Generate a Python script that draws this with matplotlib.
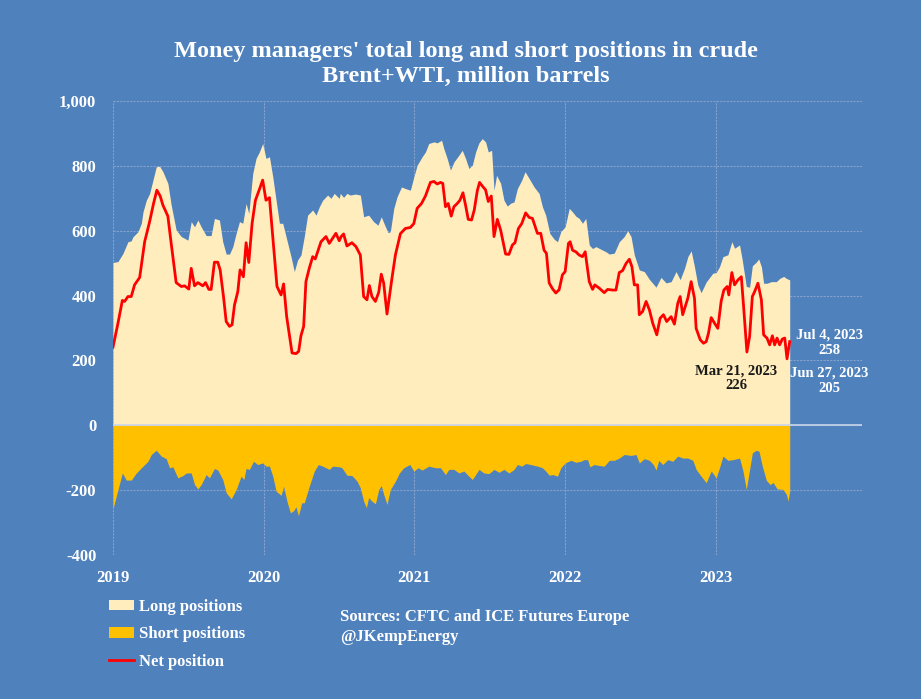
import matplotlib
matplotlib.use("Agg")
import matplotlib.pyplot as plt
from matplotlib.patches import Patch
from matplotlib.lines import Line2D

# ---- data (decimal years, million barrels) ----
long_years = [2019.000, 2019.033, 2019.066, 2019.099, 2019.121, 2019.132, 2019.166, 2019.188, 2019.199, 2019.221,
              2019.243, 2019.265, 2019.287, 2019.309, 2019.331, 2019.364, 2019.386, 2019.419, 2019.453, 2019.497,
              2019.519, 2019.541, 2019.563, 2019.585, 2019.618, 2019.651, 2019.673, 2019.706, 2019.728, 2019.751,
              2019.773, 2019.795, 2019.817, 2019.839, 2019.861, 2019.883, 2019.901, 2019.927, 2019.949, 2019.971,
              2019.993, 2020.015, 2020.038, 2020.060, 2020.082, 2020.104, 2020.126, 2020.148, 2020.181, 2020.203,
              2020.225, 2020.247, 2020.269, 2020.291, 2020.325, 2020.347, 2020.369, 2020.391, 2020.424, 2020.446,
              2020.468, 2020.501, 2020.508, 2020.530, 2020.552, 2020.574, 2020.608, 2020.641, 2020.663, 2020.696,
              2020.729, 2020.758, 2020.780, 2020.803, 2020.825, 2020.840, 2020.863, 2020.885, 2020.914, 2020.940,
              2020.973, 2020.996, 2021.018, 2021.051, 2021.073, 2021.095, 2021.129, 2021.151, 2021.180, 2021.195,
              2021.217, 2021.239, 2021.262, 2021.295, 2021.317, 2021.339, 2021.361, 2021.384, 2021.406, 2021.428,
              2021.450, 2021.472, 2021.490, 2021.512, 2021.528, 2021.545, 2021.572, 2021.594, 2021.616, 2021.639,
              2021.661, 2021.683, 2021.712, 2021.734, 2021.761, 2021.794, 2021.827, 2021.849, 2021.871, 2021.898,
              2021.927, 2021.949, 2021.971, 2022.000, 2022.027, 2022.049, 2022.071, 2022.093, 2022.115, 2022.137,
              2022.160, 2022.182, 2022.204, 2022.237, 2022.271, 2022.293, 2022.326, 2022.359, 2022.392, 2022.415,
              2022.437, 2022.459, 2022.492, 2022.525, 2022.559, 2022.603, 2022.636, 2022.670, 2022.703, 2022.736,
              2022.763, 2022.792, 2022.814, 2022.836, 2022.858, 2022.880, 2022.902, 2022.936, 2022.980, 2023.002,
              2023.024, 2023.047, 2023.080, 2023.106, 2023.124, 2023.157, 2023.175, 2023.202, 2023.224, 2023.242,
              2023.268, 2023.284, 2023.302, 2023.317, 2023.339, 2023.368, 2023.401, 2023.424, 2023.450, 2023.468,
              2023.486, 2023.490]
long_vals = [502, 505, 530, 566, 569, 581, 597, 623, 658, 694,
             715, 756, 797, 799, 782, 746, 679, 602, 582, 571,
             628, 612, 633, 612, 585, 585, 638, 633, 566, 528,
             528, 551, 592, 628, 623, 684, 653, 776, 823, 843,
             869, 823, 828, 766, 694, 623, 623, 582, 520, 474,
             510, 525, 582, 648, 664, 648, 674, 694, 710, 700,
             715, 700, 715, 703, 715, 710, 713, 710, 643, 648,
             628, 617, 643, 617, 594, 597, 669, 705, 735, 730,
             725, 766, 802, 828, 843, 869, 874, 871, 879, 853,
             823, 787, 812, 833, 848, 823, 792, 802, 843, 871,
             884, 874, 843, 848, 725, 771, 746, 694, 676, 685,
             689, 730, 756, 782, 761, 735, 715, 674, 648, 592,
             574, 566, 597, 612, 669, 658, 645, 638, 623, 638,
             556, 545, 551, 543, 535, 528, 531, 566, 582, 600,
             582, 525, 479, 474, 450, 426, 456, 439, 443, 474,
             449, 484, 520, 538, 489, 433, 409, 442, 469, 471,
             489, 520, 526, 566, 546, 556, 510, 428, 426, 492,
             503, 513, 489, 438, 438, 443, 443, 453, 459, 453,
             449, 449]

short_years = [2019.000, 2019.033, 2019.062, 2019.088, 2019.121, 2019.155, 2019.199, 2019.232, 2019.254, 2019.287,
               2019.320, 2019.353, 2019.375, 2019.397, 2019.430, 2019.464, 2019.486, 2019.519, 2019.541, 2019.563,
               2019.585, 2019.618, 2019.640, 2019.673, 2019.695, 2019.728, 2019.751, 2019.784, 2019.817, 2019.850,
               2019.868, 2019.883, 2019.905, 2019.932, 2019.960, 2019.993, 2020.015, 2020.038, 2020.060, 2020.082,
               2020.115, 2020.132, 2020.155, 2020.177, 2020.199, 2020.214, 2020.230, 2020.252, 2020.269, 2020.302,
               2020.336, 2020.362, 2020.391, 2020.435, 2020.457, 2020.501, 2020.519, 2020.552, 2020.585, 2020.619,
               2020.641, 2020.663, 2020.681, 2020.696, 2020.718, 2020.741, 2020.763, 2020.780, 2020.796, 2020.818,
               2020.840, 2020.874, 2020.900, 2020.929, 2020.969, 2020.996, 2021.024, 2021.051, 2021.095, 2021.140,
               2021.173, 2021.206, 2021.228, 2021.262, 2021.295, 2021.328, 2021.361, 2021.384, 2021.406, 2021.428,
               2021.461, 2021.494, 2021.528, 2021.561, 2021.594, 2021.627, 2021.661, 2021.683, 2021.712, 2021.738,
               2021.772, 2021.816, 2021.849, 2021.871, 2021.894, 2021.920, 2021.949, 2021.971, 2022.000, 2022.038,
               2022.071, 2022.104, 2022.126, 2022.149, 2022.164, 2022.193, 2022.226, 2022.259, 2022.293, 2022.326,
               2022.359, 2022.392, 2022.437, 2022.470, 2022.492, 2022.525, 2022.559, 2022.585, 2022.603, 2022.621,
               2022.647, 2022.681, 2022.714, 2022.747, 2022.780, 2022.814, 2022.847, 2022.869, 2022.902, 2022.936,
               2022.969, 2023.002, 2023.024, 2023.047, 2023.080, 2023.113, 2023.157, 2023.180, 2023.202, 2023.224,
               2023.242, 2023.268, 2023.286, 2023.308, 2023.335, 2023.361, 2023.379, 2023.406, 2023.446, 2023.468,
               2023.479, 2023.490]
short_vals = [-257, -198, -147, -169, -169, -147, -126, -111, -90, -77,
              -95, -103, -131, -128, -162, -155, -147, -147, -183, -196,
              -183, -152, -162, -133, -138, -167, -208, -227, -198, -157,
              -167, -133, -136, -111, -121, -116, -126, -126, -157, -203,
              -216, -188, -236, -270, -263, -251, -279, -239, -239, -188,
              -141, -121, -126, -136, -126, -128, -131, -154, -155, -172,
              -193, -234, -254, -223, -234, -242, -198, -186, -213, -244,
              -198, -172, -147, -131, -121, -141, -131, -138, -126, -131,
              -131, -152, -136, -136, -147, -141, -157, -167, -152, -136,
              -147, -149, -136, -145, -136, -147, -136, -121, -126, -118,
              -121, -126, -131, -141, -154, -152, -157, -131, -116, -108,
              -114, -111, -106, -106, -128, -121, -124, -126, -108, -108,
              -101, -90, -93, -90, -116, -103, -108, -121, -138, -108,
              -121, -106, -111, -95, -101, -101, -108, -136, -157, -177,
              -141, -162, -131, -95, -108, -106, -101, -141, -198, -136,
              -85, -77, -80, -126, -170, -183, -176, -196, -198, -213,
              -234, -203]

net_years = [2019.000, 2019.033, 2019.062, 2019.077, 2019.099, 2019.121, 2019.143, 2019.177, 2019.210, 2019.243,
             2019.269, 2019.291, 2019.313, 2019.331, 2019.364, 2019.386, 2019.419, 2019.453, 2019.475, 2019.503,
             2019.519, 2019.541, 2019.563, 2019.596, 2019.614, 2019.636, 2019.651, 2019.673, 2019.695, 2019.711,
             2019.733, 2019.751, 2019.773, 2019.790, 2019.806, 2019.828, 2019.843, 2019.865, 2019.883, 2019.901,
             2019.923, 2019.945, 2019.971, 2019.993, 2020.015, 2020.038, 2020.060, 2020.088, 2020.115, 2020.132,
             2020.152, 2020.188, 2020.214, 2020.232, 2020.247, 2020.265, 2020.280, 2020.302, 2020.325, 2020.342,
             2020.358, 2020.380, 2020.413, 2020.435, 2020.479, 2020.501, 2020.514, 2020.530, 2020.552, 2020.585,
             2020.612, 2020.641, 2020.663, 2020.685, 2020.701, 2020.718, 2020.741, 2020.763, 2020.780, 2020.796,
             2020.818, 2020.851, 2020.874, 2020.907, 2020.940, 2020.973, 2020.996, 2021.018, 2021.047, 2021.073,
             2021.106, 2021.129, 2021.151, 2021.173, 2021.188, 2021.206, 2021.224, 2021.244, 2021.262, 2021.284,
             2021.302, 2021.322, 2021.339, 2021.357, 2021.379, 2021.397, 2021.417, 2021.432, 2021.450, 2021.472,
             2021.490, 2021.510, 2021.528, 2021.550, 2021.572, 2021.605, 2021.627, 2021.650, 2021.667, 2021.690,
             2021.712, 2021.738, 2021.761, 2021.783, 2021.816, 2021.838, 2021.860, 2021.876, 2021.894, 2021.916,
             2021.938, 2021.960, 2021.982, 2022.000, 2022.022, 2022.033, 2022.049, 2022.071, 2022.093, 2022.115,
             2022.133, 2022.160, 2022.182, 2022.197, 2022.226, 2022.259, 2022.282, 2022.315, 2022.337, 2022.359,
             2022.381, 2022.404, 2022.426, 2022.443, 2022.459, 2022.481, 2022.492, 2022.514, 2022.537, 2022.559,
             2022.581, 2022.608, 2022.630, 2022.652, 2022.674, 2022.703, 2022.725, 2022.747, 2022.763, 2022.780,
             2022.814, 2022.836, 2022.858, 2022.869, 2022.896, 2022.918, 2022.936, 2022.951, 2022.969, 2022.991,
             2023.013, 2023.035, 2023.053, 2023.075, 2023.086, 2023.106, 2023.124, 2023.146, 2023.169, 2023.184,
             2023.206, 2023.224, 2023.242, 2023.257, 2023.279, 2023.302, 2023.317, 2023.339, 2023.357, 2023.375,
             2023.390, 2023.406, 2023.423, 2023.441, 2023.457, 2023.472, 2023.490]
net_vals = [241, 315, 385, 382, 397, 397, 433, 456, 566, 628,
            684, 725, 707, 679, 645, 561, 440, 428, 430, 420,
            484, 430, 440, 430, 440, 419, 419, 503, 503, 479,
            397, 320, 305, 310, 371, 412, 479, 458, 563, 502,
            623, 694, 727, 756, 694, 702, 582, 428, 402, 436,
            336, 223, 221, 228, 276, 305, 443, 484, 520, 513,
            535, 566, 582, 561, 592, 569, 582, 590, 553, 563,
            551, 525, 397, 387, 431, 397, 382, 410, 466, 438,
            343, 454, 526, 591, 607, 610, 622, 669, 684, 707,
            749, 752, 744, 749, 746, 674, 684, 645, 674, 684,
            694, 717, 679, 635, 633, 664, 723, 749, 738, 726,
            690, 707, 582, 635, 602, 528, 527, 556, 563, 607,
            622, 655, 641, 638, 592, 592, 540, 530, 439, 421,
            408, 418, 464, 474, 561, 566, 540, 535, 525, 520,
            535, 443, 419, 433, 423, 409, 419, 417, 417, 471,
            477, 499, 512, 489, 433, 433, 341, 351, 382, 356,
            315, 279, 330, 341, 320, 335, 312, 376, 397, 341,
            392, 443, 392, 299, 264, 253, 258, 284, 332, 315,
            299, 382, 417, 428, 402, 471, 433, 448, 458, 366,
            226, 274, 397, 412, 438, 387, 279, 269, 248, 276,
            248, 269, 248, 266, 269, 205, 258]

year_ticks = [2019, 2020, 2021, 2022, 2023]
value_ticks = [-400, -200, 0, 200, 400, 600, 800, 1000]
value_labels = ["-400", "-200", "0", "200", "400", "600", "800", "1,000"]

# ---- style ----
BG = "#4F81BD"
LONG_C = "#FFEDBE"
SHORT_C = "#FFC000"
NET_C = "#FF0000"
GRID_C = "#86A2CC"
FONT = ["Liberation Serif", "DejaVu Serif"]

plt.rcParams["font.family"] = FONT
plt.rcParams["font.weight"] = "bold"

fig = plt.figure(figsize=(9.21, 6.99), dpi=100, facecolor=BG)
ax = fig.add_axes([0.1227, 0.206, 0.8133, 0.6495], facecolor=BG)

ax.fill_between(long_years, 0, long_vals, color=LONG_C, linewidth=0, zorder=2)
ax.fill_between(short_years, short_vals, 0, color=SHORT_C, linewidth=0, zorder=2)
ax.plot(net_years, net_vals, color=NET_C, linewidth=2, zorder=3)

ax.set_xlim(2019, 2023.97)
ax.set_ylim(-400, 1000)
ax.set_xticks(year_ticks)
ax.set_xticklabels([str(y) for y in year_ticks], color="white", fontsize=12, fontweight="bold")
ax.set_yticks(value_ticks)
ax.set_yticklabels(value_labels, color="white", fontsize=12, fontweight="bold")
ax.tick_params(axis="y", length=0, pad=12)
ax.tick_params(axis="x", length=0, pad=11)
for s in ax.spines.values():
    s.set_visible(False)
ax.grid(True, color=GRID_C, linewidth=0.8, linestyle=(0, (2, 1)), zorder=1)
ax.axhline(0, color="#C9D6EA", linewidth=1.2, zorder=4)
ax.set_axisbelow(True)

fig.text(0.506, 0.927, "Money managers' total long and short positions in crude",
         ha="center", va="center", color="white", fontsize=17.5, fontweight="bold")
fig.text(0.506, 0.89, "Brent+WTI, million barrels",
         ha="center", va="center", color="white", fontsize=17.5, fontweight="bold")

# annotations
ax.text(2023.135, 145, "Mar 21, 2023\n226", ha="center", va="center", color="#1a1a1a",
        fontsize=10.5, fontweight="bold", linespacing=1.2)
ax.text(2023.755, 255, "Jul 4, 2023\n258", ha="center", va="center", color="white",
        fontsize=10.5, fontweight="bold", linespacing=1.2)
ax.text(2023.755, 137, "Jun 27, 2023\n205", ha="center", va="center", color="white",
        fontsize=10.5, fontweight="bold", linespacing=1.2)

handles = [Patch(facecolor=LONG_C, edgecolor="none"),
           Patch(facecolor=SHORT_C, edgecolor="none"),
           Line2D([0], [0], color=NET_C, linewidth=2)]
leg = fig.legend(handles, ["Long positions", "Short positions", "Net position"],
                 loc="upper left", bbox_to_anchor=(0.118, 0.143), frameon=False,
                 labelcolor="white", prop={"family": FONT, "weight": "bold", "size": 12},
                 handlelength=1.5, handleheight=0.6, handletextpad=0.3, labelspacing=0.68,
                 borderaxespad=0, borderpad=0)

fig.text(0.369, 0.117, "Sources: CFTC and ICE Futures Europe", ha="left", va="center",
         color="white", fontsize=12, fontweight="bold")
fig.text(0.369, 0.088, "@JKempEnergy", ha="left", va="center",
         color="white", fontsize=12, fontweight="bold")

fig.savefig("out.png", dpi=100, facecolor=BG)
